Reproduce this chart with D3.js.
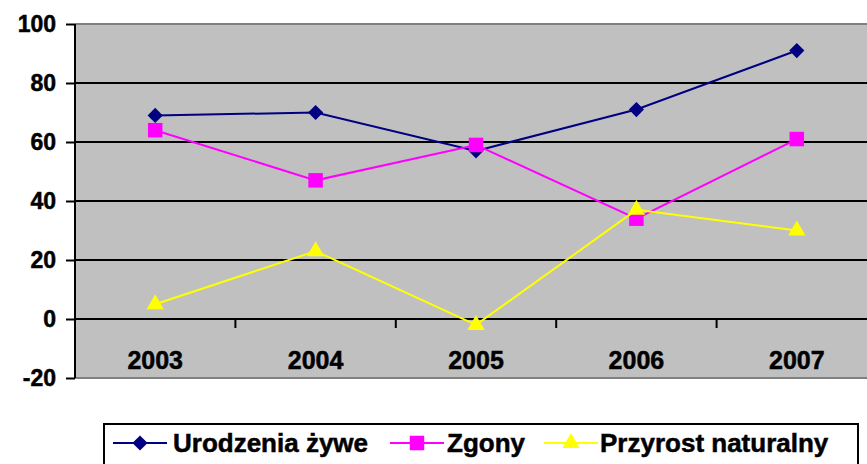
<!DOCTYPE html>
<html><head><meta charset="utf-8">
<script src="https://cdn.jsdelivr.net/npm/d3@7"></script>
<style>body{margin:0;background:#fff}svg{display:block}text{font-family:"Liberation Sans",Arial,sans-serif;font-weight:bold;stroke:#000;stroke-width:0.5px}</style>
</head><body>
<svg id="c" width="867" height="464"></svg>
<script>
const years = ["2003","2004","2005","2006","2007"];
const urodzenia = [69,70,57,71,91];
const zgony = [64,47,59,34,61];
const przyrost = [5,23,-2,37,30];
const yTicks = [-20,0,20,40,60,80,100];
const seriesNames = ["Urodzenia żywe","Zgony","Przyrost naturalny"];

const svg = d3.select("#c");
const L = 75, R = 877, T = 24, B = 378;
const x = d3.scaleBand().domain(years).range([L,R]);
const y = d3.scaleLinear().domain([-20,100]).range([B,T]);

svg.append("rect").attr("x",L).attr("y",T).attr("width",R-L).attr("height",B-T).attr("fill","#C0C0C0");
svg.selectAll(".g").data(yTicks.filter(v=>v>-20&&v<100)).enter().append("line")
  .attr("x1",L).attr("x2",R).attr("y1",d=>y(d)).attr("y2",d=>y(d))
  .attr("stroke","#000").attr("stroke-width",2);
[100,-20].forEach(v=>svg.append("line").attr("x1",L).attr("x2",R).attr("y1",y(v)).attr("y2",y(v)).attr("stroke","#808080").attr("stroke-width",2));
const ya = svg.append("g").attr("transform",`translate(${L},0)`)
  .call(d3.axisLeft(y).tickValues(yTicks).tickSize(9).tickPadding(10).tickFormat(d=>String(d)));
ya.select(".domain").attr("stroke","#000").attr("stroke-width",2).attr("d",`M0,${T}V${B}`);
ya.selectAll(".tick line").attr("stroke","#000").attr("stroke-width",2);
ya.selectAll(".tick text").attr("font-size",23).attr("fill","#000").attr("font-family",null).attr("font-weight","bold");
const bounds = years.slice(1).map(d=>x(d));
svg.selectAll(".xt").data(bounds).enter().append("line")
  .attr("x1",d=>d).attr("x2",d=>d).attr("y1",y(0)).attr("y2",y(0)+9)
  .attr("stroke","#000").attr("stroke-width",2);
svg.selectAll(".xl").data(years).enter().append("text")
  .attr("x",d=>x(d)+x.bandwidth()/2).attr("y",369).attr("text-anchor","middle")
  .attr("font-size",25).attr("fill","#000").text(d=>d);

const cx = d=>x(d)+x.bandwidth()/2;
const series = [
  {vals:urodzenia,color:"#000080",shape:d3.symbolSquare,size:115,rot:45},
  {vals:zgony,color:"#FF00FF",shape:d3.symbolSquare,size:210,rot:0},
  {vals:przyrost,color:"#FFFF00",shape:d3.symbolTriangle,size:130,rot:0}
];
const line = d3.line().x((d,i)=>cx(years[i])).y(d=>y(d));
series.forEach(s=>{
  svg.append("path").attr("d",line(s.vals)).attr("fill","none").attr("stroke",s.color).attr("stroke-width",2);
  svg.selectAll(null).data(s.vals).enter().append("path")
    .attr("d",d3.symbol().type(s.shape).size(s.size))
    .attr("transform",(d,i)=>`translate(${cx(years[i])},${y(d)}) rotate(${s.rot})`)
    .attr("fill",s.color);
});

svg.append("rect").attr("x",104).attr("y",424).attr("width",754).attr("height",45)
  .attr("fill","#fff").attr("stroke","#000").attr("stroke-width",2);
const leg = [{lx:113,tx:173},{lx:390,tx:447},{lx:544,tx:600}];
leg.forEach((l,i)=>{
  const s = series[i];
  svg.append("line").attr("x1",l.lx).attr("x2",l.lx+54).attr("y1",443).attr("y2",443).attr("stroke",s.color).attr("stroke-width",2);
  svg.append("path").attr("d",d3.symbol().type(s.shape).size(s.size)).attr("transform",`translate(${l.lx+27},443) rotate(${s.rot})`).attr("fill",s.color);
  svg.append("text").attr("x",l.tx).attr("y",452).attr("font-size",26).attr("fill","#000").text(seriesNames[i]);
});
</script>
</body></html>
